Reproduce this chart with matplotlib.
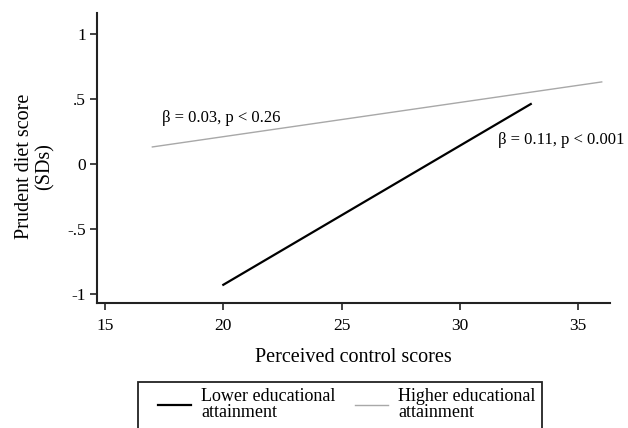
import matplotlib
matplotlib.use("Agg")
import matplotlib.pyplot as plt
from matplotlib.patches import Rectangle

# Data
lower_x = [20, 33]
lower_y = [-0.93, 0.46]
higher_x = [17, 36]
higher_y = [0.13, 0.63]
xticks = [15, 20, 25, 30, 35]
yticks = [-1, -0.5, 0, 0.5, 1]
ytick_labels = ["-1", "-.5", "0", ".5", "1"]
ann_higher = "β = 0.03, p < 0.26"
ann_lower = "β = 0.11, p < 0.001"

plt.rcParams['font.family'] = ['Liberation Serif', 'DejaVu Serif']

fig = plt.figure(figsize=(6.28, 4.28), dpi=100)
ax = fig.add_axes([97/628, 1-303/428, (610-97)/628, (303-13)/428])

l1, = ax.plot(lower_x, lower_y, color='black', lw=1.6, label="Lower educational\nattainment")
l2, = ax.plot(higher_x, higher_y, color='#a8a8a8', lw=1.0, label="Higher educational\nattainment")

ax.set_xlim(14.66, 36.35)
ax.set_ylim(-1.07, 1.16)
ax.set_xticks(xticks)
ax.set_yticks(yticks)
ax.set_yticklabels(ytick_labels)
ax.tick_params(axis='both', direction='out', length=5, width=1.2, labelsize=12.5, pad=6, color='#222222')
ax.tick_params(axis='y', pad=3)
for s in ['top', 'right']:
    ax.spines[s].set_visible(False)
for s in ['left', 'bottom']:
    ax.spines[s].set_linewidth(1.5)
    ax.spines[s].set_color('#222222')

ax.set_xlabel("Perceived control scores", fontsize=14.5, labelpad=10)
ax.set_ylabel("Prudent diet score\n(SDs)", fontsize=14.5, linespacing=1.1)
ax.yaxis.set_label_coords(-0.082, 0.47)

ax.text(17.4, 0.35, ann_higher, fontsize=12, va='center', ha='left')
ax.text(31.6, 0.18, ann_lower, fontsize=12, va='center', ha='left')

# legend box (extends past bottom edge as in reference)
fig.patches.append(Rectangle((138/628, -0.1), (542-138)/628, 1-382/428+0.1,
                             transform=fig.transFigure, fill=False,
                             edgecolor='#222222', linewidth=1.3))
leg = fig.legend(handles=[l1, l2], loc='upper left', bbox_to_anchor=(158/628, 1-388/428),
                 ncol=2, fontsize=13, frameon=False,
                 handlelength=1.85, handletextpad=0.55, columnspacing=1.05, borderpad=0,
                 borderaxespad=0, labelspacing=0.2)
for t in leg.get_texts():
    t.set_linespacing(0.95)

fig.savefig("out.png", dpi=100)
